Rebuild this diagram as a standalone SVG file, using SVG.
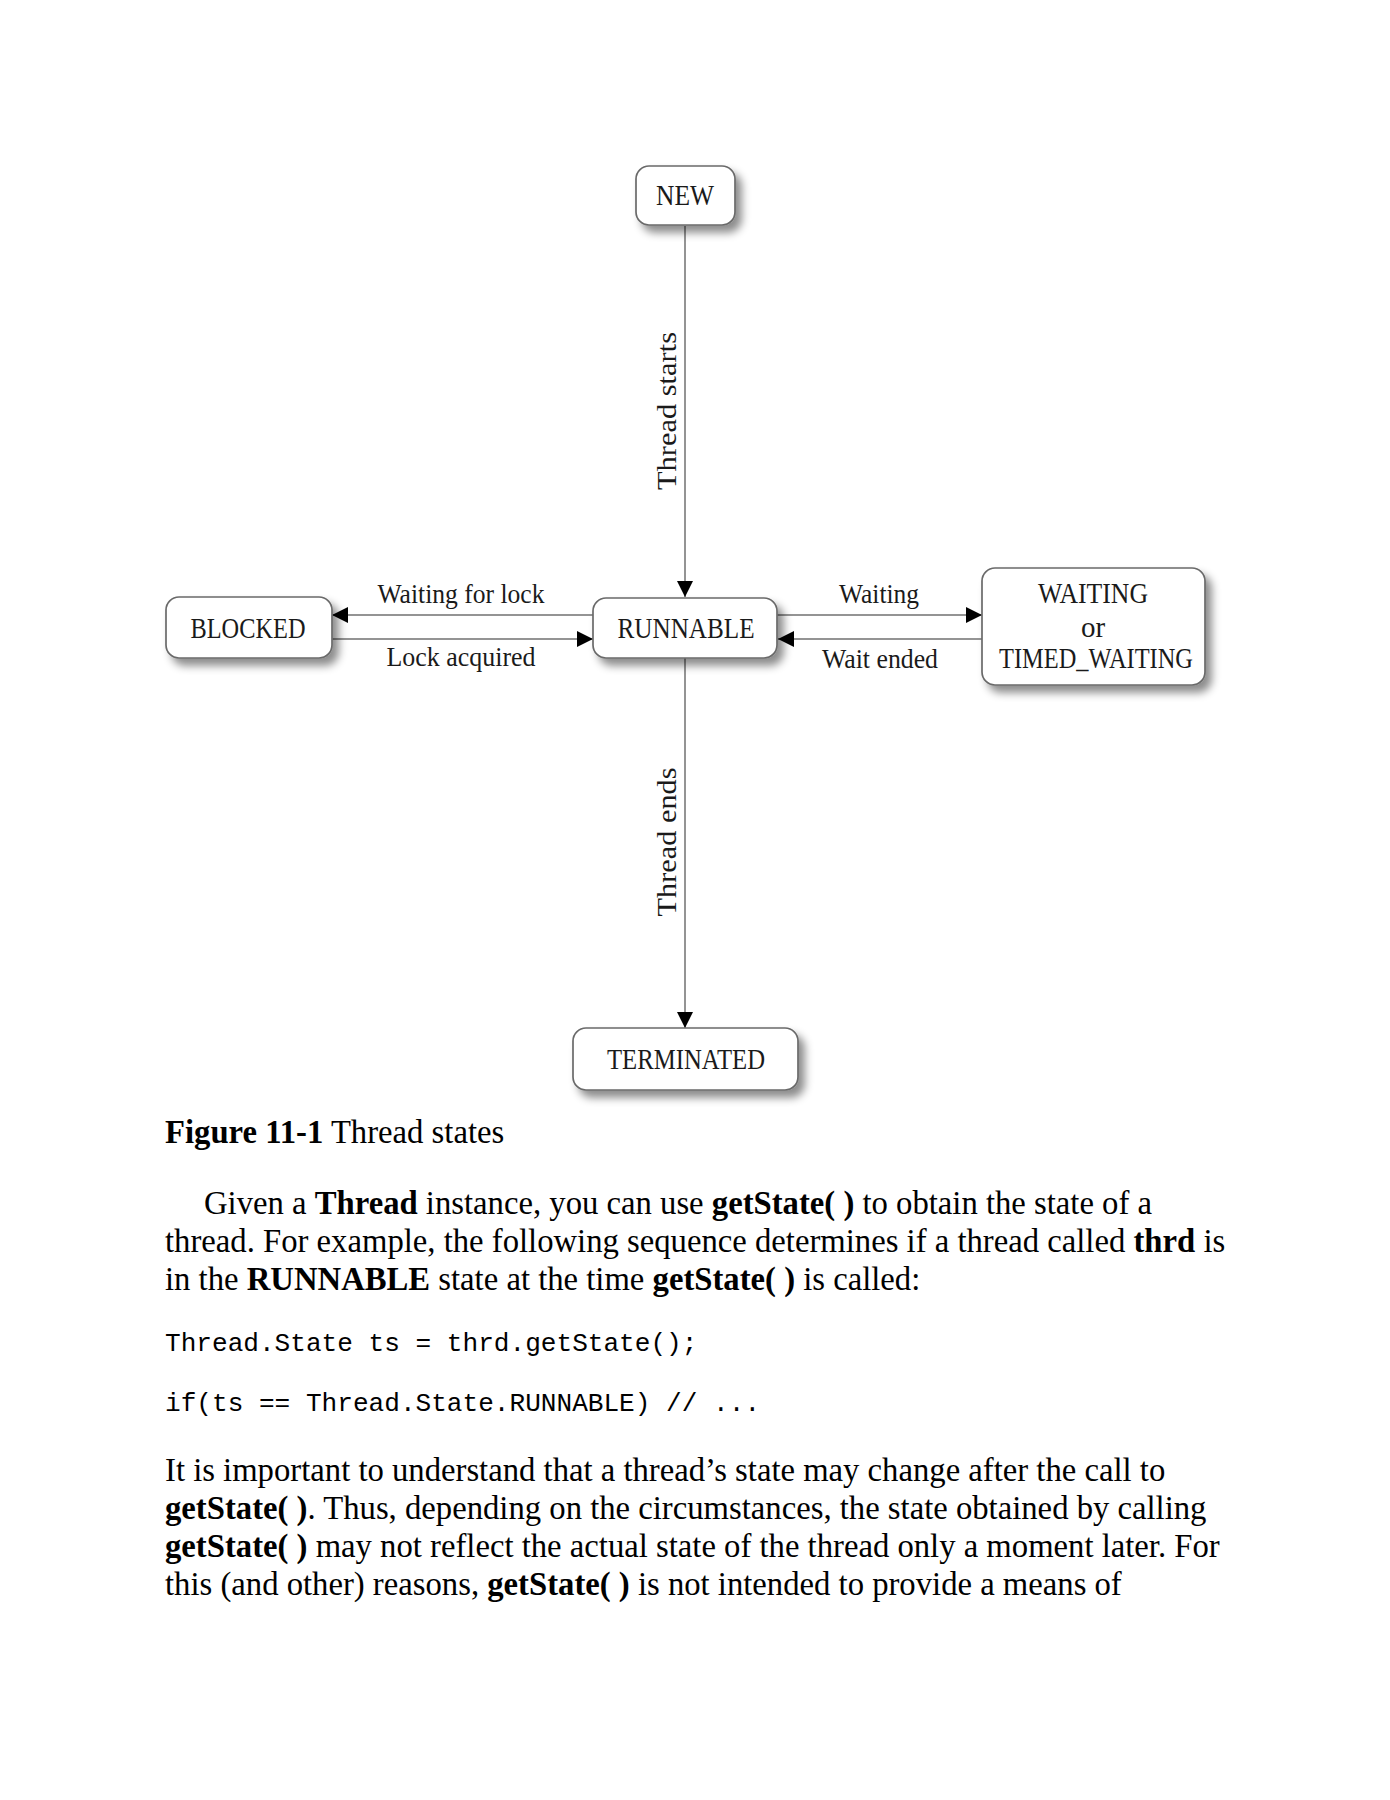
<svg xmlns="http://www.w3.org/2000/svg" width="1390" height="1800" viewBox="0 0 1390 1800">
<style>
.box{fill:#fff;stroke:#6a6a6a;stroke-width:1.7;filter:url(#sh)}
.nl{font-family:"Liberation Serif",serif;font-size:29px;fill:#1a1a1a;text-anchor:middle}
.el{font-family:"Liberation Serif",serif;font-size:28px;fill:#1a1a1a;text-anchor:middle}
.conn{stroke:#949494;stroke-width:2;fill:none}
.body{font-family:"Liberation Serif",serif;font-size:32.7px;fill:#000}
.code{font-family:"Liberation Mono",monospace;font-size:26.1px;fill:#000}
.b{font-weight:bold}
</style>
<defs>
<filter id="sh" x="-20%" y="-30%" width="150%" height="180%">
<feDropShadow dx="6" dy="7" stdDeviation="4" flood-color="#000" flood-opacity="0.45"/>
</filter>
<marker id="ah" viewBox="0 0 16 16" refX="16" refY="8" markerWidth="16" markerHeight="16" markerUnits="userSpaceOnUse" orient="auto">
<path d="M0,0 L16,8 L0,16 Z" fill="#000"/>
</marker>
</defs>
<rect width="1390" height="1800" fill="#fff"/>

<g id="connectors">
<line class="conn" x1="685" y1="226" x2="685" y2="597" marker-end="url(#ah)"/>
<line class="conn" x1="685" y1="658" x2="685" y2="1028" marker-end="url(#ah)"/>
<line class="conn" x1="593" y1="615" x2="332" y2="615" marker-end="url(#ah)"/>
<line class="conn" x1="332" y1="639" x2="593" y2="639" marker-end="url(#ah)"/>
<line class="conn" x1="777" y1="615" x2="982" y2="615" marker-end="url(#ah)"/>
<line class="conn" x1="982" y1="639" x2="778" y2="639" marker-end="url(#ah)"/>
<text class="el" transform="translate(676,411) rotate(-90)" textLength="158" lengthAdjust="spacingAndGlyphs" font-size="27">Thread starts</text>
<text class="el" transform="translate(676,842) rotate(-90)" textLength="149" lengthAdjust="spacingAndGlyphs" font-size="27">Thread ends</text>
<text class="el" x="461" y="603" textLength="167" lengthAdjust="spacingAndGlyphs">Waiting for lock</text>
<text class="el" x="461" y="666" textLength="149" lengthAdjust="spacingAndGlyphs">Lock acquired</text>
<text class="el" x="879" y="603" textLength="80" lengthAdjust="spacingAndGlyphs">Waiting</text>
<text class="el" x="880" y="668" textLength="116" lengthAdjust="spacingAndGlyphs">Wait ended</text>
</g>

<g id="node-new">
<rect class="box" x="636" y="166" width="99" height="59" rx="13"/>
<text class="nl" x="685" y="205" textLength="58" lengthAdjust="spacingAndGlyphs">NEW</text>
</g>
<g id="node-runnable">
<rect class="box" x="593" y="598" width="184" height="60" rx="13"/>
<text class="nl" x="686" y="638" textLength="137" lengthAdjust="spacingAndGlyphs">RUNNABLE</text>
</g>
<g id="node-blocked">
<rect class="box" x="166" y="597" width="166" height="61" rx="13"/>
<text class="nl" x="248" y="638" textLength="115" lengthAdjust="spacingAndGlyphs">BLOCKED</text>
</g>
<g id="node-waiting">
<rect class="box" x="982" y="568" width="223" height="117" rx="13"/>
<text class="nl" x="1093" y="603" textLength="110" lengthAdjust="spacingAndGlyphs">WAITING</text>
<text class="nl" x="1093" y="637">or</text>
<text class="nl" x="1096" y="668" textLength="194" lengthAdjust="spacingAndGlyphs">TIMED_WAITING</text>
</g>
<g id="node-terminated">
<rect class="box" x="573" y="1028" width="225" height="62" rx="13"/>
<text class="nl" x="686" y="1069" textLength="158" lengthAdjust="spacingAndGlyphs">TERMINATED</text>
</g>

<g id="text">
<text class="body" x="165" y="1143"><tspan class="b">Figure 11-1</tspan> Thread states</text>
<text class="body" x="204" y="1214">Given a <tspan class="b">Thread</tspan> instance, you can use <tspan class="b">getState( )</tspan> to obtain the state of a</text>
<text class="body" x="165" y="1252">thread. For example, the following sequence determines if a thread called <tspan class="b">thrd</tspan> is</text>
<text class="body" x="165" y="1290">in the <tspan class="b">RUNNABLE</tspan> state at the time <tspan class="b">getState( )</tspan> is called:</text>
<text class="code" x="165" y="1351">Thread.State ts = thrd.getState();</text>
<text class="code" x="165" y="1411">if(ts == Thread.State.RUNNABLE) // ...</text>
<text class="body" x="165" y="1481">It is important to understand that a thread’s state may change after the call to</text>
<text class="body" x="165" y="1519"><tspan class="b">getState( )</tspan>. Thus, depending on the circumstances, the state obtained by calling</text>
<text class="body" x="165" y="1557"><tspan class="b">getState( )</tspan> may not reflect the actual state of the thread only a moment later. For</text>
<text class="body" x="165" y="1595">this (and other) reasons, <tspan class="b">getState( )</tspan> is not intended to provide a means of</text>
</g>
</svg>
